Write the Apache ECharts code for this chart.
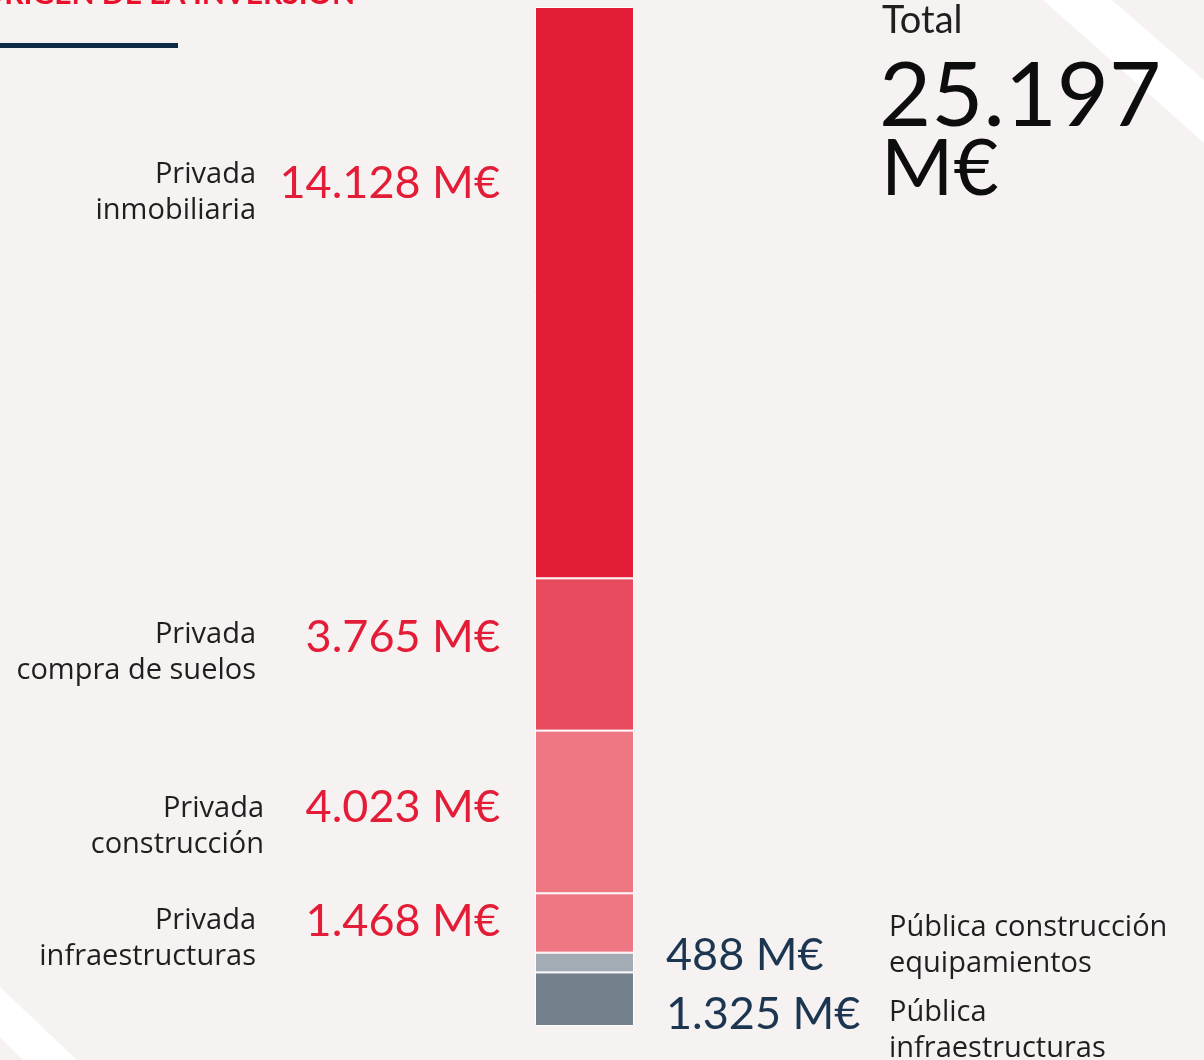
<!DOCTYPE html>
<html>
<head>
<meta charset="utf-8">
<script src="https://cdn.jsdelivr.net/npm/echarts@6/dist/echarts.min.js"></script>
<style>
  html, body { margin: 0; padding: 0; background: #f5f2f1; }
  #chart { width: 1204px; height: 1060px; }
</style>
</head>
<body>
<div id="chart"></div>
<script>
// data, bottom to top of the stack
const categories = ['Pública\ninfraestructuras', 'Pública construcción\nequipamientos', 'Privada\ninfraestructuras', 'Privada\nconstrucción', 'Privada\ncompra de suelos', 'Privada\ninmobiliaria'];
const values = [1325, 488, 1468, 4023, 3765, 14128];
const total = 25197;
const colors = ['#74808c', '#a3acb5', '#ef7683', '#ef7784', '#e84b5e', '#e31d37'];

const font = 'Lato, "Noto Sans", sans-serif';
const labelFont = '"Open Sans", "Noto Sans", sans-serif';
const fmt = v => String(v).replace(/\B(?=(\d{3})+(?!\d))/g, '.');

// label layout: side, offsets (value, category) from segment centre
const side = ['right', 'right', 'left', 'left', 'left', 'left'];
const valueDy = [15, -7, -2, -4, -17, -109];
const catDy = [32, -17, 16, 15, -2, -100];
const catRight = [0, 0, 256, 264, 256, 256];

const chart = echarts.init(document.getElementById('chart'));

const series = values.map((v, i) => ({
  name: categories[i].replace('\n', ' '),
  type: 'bar',
  stack: 'total',
  barWidth: '100%',
  data: [v],
  itemStyle: { color: colors[i], borderColor: '#ffffff', borderWidth: 1 },
  silent: true
}));

chart.setOption({
  backgroundColor: '#f5f2f1',
  animation: false,
  grid: { left: 535, top: 7, width: 99, bottom: 34 },
  xAxis: { type: 'category', data: ['Inversión'], show: false },
  yAxis: { type: 'value', min: 0, max: total, show: false },
  series: series
});

// labels placed from the y scale
const els = [
  { type: 'polygon', shape: { points: [[1043, 0], [1112, 0], [1204, 80], [1204, 143]] }, style: { fill: '#ffffff' }, z: -1 },
  { type: 'polygon', shape: { points: [[0, 987], [77, 1060], [23, 1060], [0, 1037]] }, style: { fill: '#ffffff' }, z: -1 },
  { type: 'text', x: 355, y: -6, style: { text: 'ORIGEN DE LA INVERSIÓN', fill: '#e8102a', font: 'bold 30px ' + font, align: 'right', verticalAlign: 'middle' } },
  { type: 'rect', shape: { x: 0, y: 43, width: 178, height: 5 }, style: { fill: '#0f2a44' } },
  { type: 'text', x: 882, y: 21, style: { text: 'Total', fill: '#1f1f1f', font: '38px ' + font, verticalAlign: 'middle' } },
  { type: 'text', x: 879, y: 97, style: { text: fmt(total), fill: '#0d0d0d', font: '90px ' + font, verticalAlign: 'middle' } },
  { type: 'text', x: 881, y: 170, style: { text: 'M€', fill: '#0d0d0d', font: '78px ' + font, verticalAlign: 'middle' } }
];

let acc = 0;
values.forEach((v, i) => {
  const cy = chart.convertToPixel({ gridIndex: 0 }, [0, acc + v / 2])[1];
  acc += v;
  if (side[i] === 'left') {
    els.push({ type: 'text', x: 500, y: cy + valueDy[i], style: { text: fmt(v) + ' M€', fill: '#e31d37', font: '45px ' + font, align: 'right', verticalAlign: 'middle' } });
    els.push({ type: 'text', x: catRight[i], y: cy + catDy[i], style: { text: categories[i], fill: '#1f1f1f', font: '29px ' + labelFont, lineHeight: 36, align: 'right', verticalAlign: 'middle' } });
  } else {
    els.push({ type: 'text', x: 666, y: cy + valueDy[i], style: { text: fmt(v) + ' M€', fill: '#1c3550', font: '45px ' + font, align: 'left', verticalAlign: 'middle' } });
    els.push({ type: 'text', x: 889, y: cy + catDy[i], style: { text: categories[i], fill: '#1f1f1f', font: '29px ' + labelFont, lineHeight: 36, align: 'left', verticalAlign: 'middle' } });
  }
});

chart.setOption({ graphic: els });
</script>
</body>
</html>
